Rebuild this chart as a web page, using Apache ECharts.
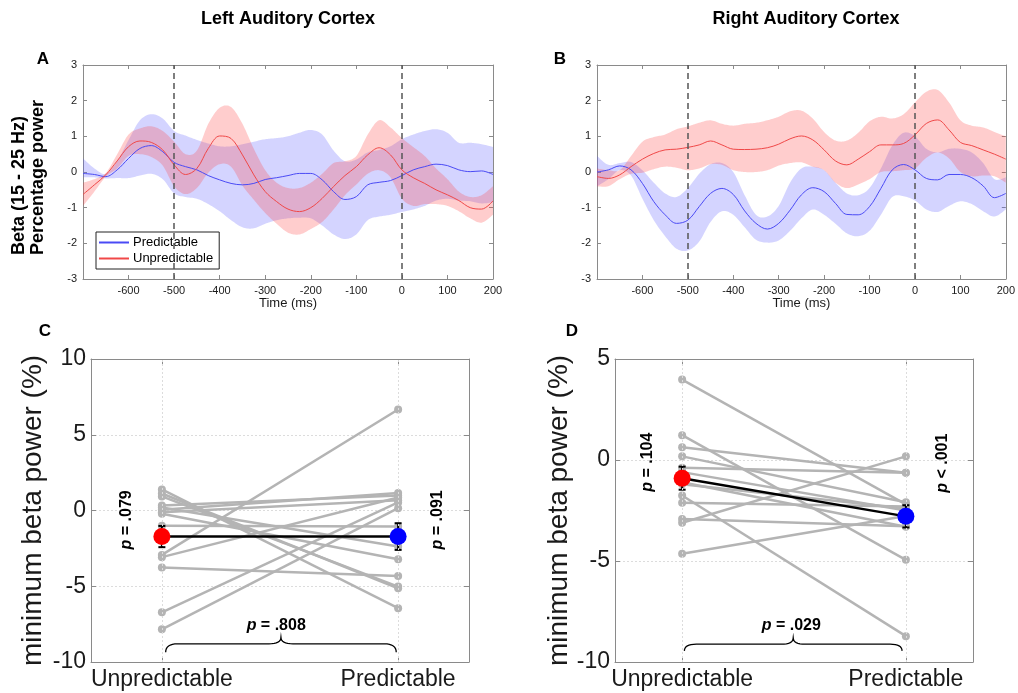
<!DOCTYPE html>
<html>
<head>
<meta charset="utf-8">
<script src="https://cdn.jsdelivr.net/npm/echarts@6/dist/echarts.min.js"></script>
<style>
html,body{margin:0;padding:0;background:#fff}
#chart{width:1018px;height:693px}
</style>
</head>
<body>
<div id="chart"></div>
<script>
// ---- time courses of beta power (percentage change), sampled every 25 ms ----
const timeMs = [-700,-675,-650,-625,-600,-575,-550,-525,-500,-475,-450,-425,-400,-375,-350,-325,-300,-275,-250,-225,-200,-175,-150,-125,-100,-75,-50,-25,0,25,50,75,100,125,150,175,200];

// Left auditory cortex
const leftPredMean  = [-0.04,-0.07,-0.13,0.06,0.38,0.66,0.74,0.57,0.27,0.15,0.06,-0.1,-0.22,-0.32,-0.36,-0.32,-0.21,-0.16,-0.1,-0.04,-0.04,-0.22,-0.55,-0.77,-0.69,-0.36,-0.29,-0.24,-0.1,0.06,0.15,0.22,0.18,0.06,0.01,0.03,-0.07];
const leftPredUpper = [0.38,0.1,-0.05,0.3,0.9,1.45,1.62,1.5,1.15,1.02,0.9,0.8,0.72,0.72,0.78,0.85,0.92,0.95,1.0,1.1,1.18,1.05,0.6,0.3,0.35,0.55,0.62,0.72,0.92,1.05,1.15,1.2,1.1,0.82,0.82,0.78,0.7];
const leftPredLower = [-0.15,-0.15,-0.18,-0.17,-0.17,-0.1,-0.05,-0.2,-0.6,-0.7,-0.75,-0.9,-1.1,-1.35,-1.55,-1.58,-1.45,-1.35,-1.3,-1.28,-1.3,-1.5,-1.75,-1.88,-1.75,-1.35,-1.25,-1.2,-1.12,-1.05,-0.95,-0.8,-0.75,-0.8,-0.82,-0.88,-0.85];
const leftUnpMean   = [-0.63,-0.36,-0.08,0.31,0.71,0.87,0.83,0.62,0.2,-0.07,0.1,0.66,1.01,0.94,0.48,-0.08,-0.55,-0.83,-1.04,-1.11,-1.0,-0.74,-0.41,-0.1,0.15,0.48,0.68,0.48,0.06,-0.16,-0.32,-0.5,-0.64,-0.8,-1.0,-1.04,-0.81];
const leftUnpUpper  = [-0.3,-0.2,-0.03,0.5,1.05,1.22,1.28,1.15,0.85,0.5,0.6,1.35,1.8,1.82,1.35,0.65,0.05,-0.3,-0.45,-0.45,-0.3,-0.05,0.25,0.3,0.45,1.05,1.45,1.25,0.95,0.7,0.45,0.1,-0.2,-0.55,-0.7,-0.65,-0.4];
const leftUnpLower  = [-0.95,-0.55,-0.13,0.1,0.45,0.5,0.42,0.18,-0.4,-0.62,-0.45,-0.02,0.22,0.15,-0.38,-0.78,-1.15,-1.45,-1.7,-1.75,-1.6,-1.4,-1.05,-0.65,-0.35,-0.05,0.05,-0.15,-0.75,-0.95,-0.9,-0.9,-0.95,-1.1,-1.3,-1.42,-1.2];

// Right auditory cortex
const rightPredMean  = [0.0,0.06,0.17,0.06,-0.32,-0.83,-1.2,-1.44,-1.35,-0.97,-0.6,-0.46,-0.63,-1.09,-1.44,-1.6,-1.44,-1.07,-0.64,-0.44,-0.55,-0.88,-1.19,-1.2,-0.97,-0.46,0.06,0.21,0.06,-0.18,-0.22,-0.07,-0.07,-0.16,-0.39,-0.72,-0.6];
const rightPredUpper = [0.45,0.2,0.25,0.28,0.05,-0.3,-0.6,-0.7,-0.45,-0.05,0.22,0.25,0.0,-0.65,-1.2,-1.25,-0.95,-0.3,0.1,0.15,0.05,-0.3,-0.6,-0.65,-0.45,0.1,0.75,1.1,1.0,0.65,0.55,0.65,0.65,0.55,0.25,-0.2,-0.15];
const rightPredLower = [-0.4,-0.2,0.05,-0.1,-0.75,-1.35,-1.8,-2.15,-2.2,-1.95,-1.4,-1.1,-1.2,-1.55,-1.9,-1.98,-1.92,-1.65,-1.3,-1.05,-1.2,-1.45,-1.72,-1.8,-1.65,-1.2,-0.7,-0.68,-0.8,-1.05,-1.12,-0.95,-0.82,-0.9,-1.1,-1.25,-1.05];
const rightUnpMean   = [-0.13,-0.18,-0.08,0.15,0.36,0.52,0.62,0.64,0.69,0.76,0.87,0.76,0.64,0.63,0.64,0.68,0.78,0.93,1.01,0.9,0.62,0.31,0.2,0.36,0.57,0.76,0.76,0.8,1.04,1.36,1.46,1.18,0.83,0.74,0.62,0.5,0.36];
const rightUnpUpper  = [0.1,0.05,0.05,0.45,0.85,0.98,1.05,1.2,1.28,1.38,1.45,1.35,1.3,1.35,1.38,1.45,1.55,1.7,1.72,1.5,1.12,0.88,0.88,1.1,1.42,1.55,1.5,1.62,1.95,2.25,2.3,1.95,1.45,1.3,1.25,1.12,1.0];
const rightUnpLower  = [-0.4,-0.4,-0.2,-0.05,-0.02,0.08,0.15,0.12,0.05,0.1,0.22,0.2,0.05,0.0,0.0,0.05,0.18,0.25,0.27,0.15,0.05,-0.3,-0.45,-0.35,-0.2,0.0,0.02,0.05,0.1,0.4,0.55,0.38,0.0,-0.12,-0.1,-0.12,-0.3];

const eventMarksMs = [-500, 0];

// ---- per-participant minimum beta power (%) ----
const conditionNames = ['Unpredictable', 'Predictable'];
const leftUnpSubj  = [1.39, 1.12, 0.93, 0.33, 0.2, 0.05, -0.11, -0.22, -1.0, -2.93, -3.08, -3.77, -6.72, -7.84];
const leftPredSubj = [-6.45, -5.13, -5.02, 0.99, -2.38, 1.15, 0.68, -3.22, -1.06, 6.67, 0.86, -4.32, 0.53, 0.15];
const leftGroupMean = [-1.72, -1.72];
const leftGroupSem  = [0.7, 0.88];

const rightUnpSubj  = [3.98, 1.23, 0.63, 0.18, -0.38, -0.6, -1.2, -1.76, -2.12, -2.92, -3.11, -4.64, -1.1];
const rightPredSubj = [-2.2, -4.94, -0.63, -2.09, -0.63, -2.5, -2.4, -8.72, -2.3, -3.28, 0.18, -2.77, -3.3];
const rightGroupMean = [-0.9, -2.79];
const rightGroupSem  = [0.57, 0.55];

// p-values printed on the lower panels
const leftPLabels  = { unp: '.079', pred: '.091', diff: '.808', predOp: '=' };
const rightPLabels = { unp: '.104', pred: '.001', diff: '.029', predOp: '<' };

// ---- styling ----
const FONT = 'Arial, "Liberation Sans", Helvetica, sans-serif';
const BLUE_LINE = '#4a4af5';
const RED_LINE = '#f04848';
const BLUE_FILL = 'rgba(90,90,255,0.26)';
const RED_FILL = 'rgba(255,70,70,0.27)';
const BOX = '#8a8a8a';
const TXT = '#1a1a1a';

const chart = echarts.init(document.getElementById('chart'), null, { renderer: 'canvas' });

const zip = (xs, ys) => xs.map((x, i) => [x, ys[i]]);

// Catmull-Rom curve through pixel points, used for the smooth edges of the shaded bands
function smoothPath(pts, steps) {
  const out = [];
  const n = pts.length;
  for (let i = 0; i < n - 1; i++) {
    const p0 = pts[Math.max(i - 1, 0)], p1 = pts[i], p2 = pts[i + 1], p3 = pts[Math.min(i + 2, n - 1)];
    for (let s = 0; s < steps; s++) {
      const t = s / steps, t2 = t * t, t3 = t2 * t;
      const f = k => 0.5 * (2 * p1[k] + (-p0[k] + p2[k]) * t +
        (2 * p0[k] - 5 * p1[k] + 4 * p2[k] - p3[k]) * t2 +
        (-p0[k] + 3 * p1[k] - 3 * p2[k] + p3[k]) * t3);
      out.push([f(0), f(1)]);
    }
  }
  out.push(pts[n - 1]);
  return out;
}

function timeAxes(gi) {
  const common = {
    gridIndex: gi, type: 'value', min: -700, max: 200, interval: 100,
    axisLine: { show: true, onZero: false, lineStyle: { color: BOX, width: 1 } },
    axisTick: { show: true, inside: true, length: 4, lineStyle: { color: BOX } },
    splitLine: { show: false }
  };
  return [
    Object.assign({}, common, {
      position: 'bottom',
      axisLabel: { color: TXT, fontSize: 11, fontFamily: FONT, margin: 6,
        formatter: v => (v === -700 ? '' : String(v)) },
      name: 'Time (ms)', nameLocation: 'middle', nameGap: 16,
      nameTextStyle: { color: TXT, fontSize: 13, fontFamily: FONT }
    }),
    Object.assign({}, common, { position: 'top', axisLabel: { show: false } })
  ];
}
function powerAxes(gi) {
  const common = {
    gridIndex: gi, type: 'value', min: -3, max: 3, interval: 1,
    axisLine: { show: true, onZero: false, lineStyle: { color: BOX, width: 1 } },
    axisTick: { show: true, inside: true, length: 4, lineStyle: { color: BOX } },
    splitLine: { show: false }
  };
  return [
    Object.assign({}, common, {
      position: 'left',
      axisLabel: { color: TXT, fontSize: 11, fontFamily: FONT, margin: 6 }
    }),
    Object.assign({}, common, { position: 'right', axisLabel: { show: false } })
  ];
}
function condAxes(gi) {
  const common = {
    gridIndex: gi, type: 'value', min: 0.7, max: 2.3,
    axisLine: { show: true, onZero: false, lineStyle: { color: BOX, width: 1 } },
    splitLine: { show: false }
  };
  return [
    Object.assign({}, common, {
      position: 'bottom',
      axisTick: { show: true, inside: true, length: 5, customValues: [1, 2], lineStyle: { color: BOX } },
      axisLabel: { show: true, customValues: [1, 2], color: TXT, fontSize: 23, fontFamily: FONT, margin: 6,
        formatter: v => conditionNames[Math.round(v) - 1] }
    }),
    Object.assign({}, common, {
      position: 'top',
      axisTick: { show: true, inside: true, length: 5, customValues: [1, 2], lineStyle: { color: BOX } },
      axisLabel: { show: false }
    })
  ];
}
function betaMinAxes(gi, min, max, gap) {
  const common = {
    gridIndex: gi, type: 'value', min: min, max: max, interval: 5,
    axisLine: { show: true, onZero: false, lineStyle: { color: BOX, width: 1 } },
    axisTick: { show: true, inside: true, length: 5, lineStyle: { color: BOX } }
  };
  return [
    Object.assign({}, common, {
      position: 'left',
      splitLine: { show: true, lineStyle: { color: '#dcdcdc', type: [2, 2], width: 1 } },
      axisLabel: { color: TXT, fontSize: 23, fontFamily: FONT, margin: 5 },
      name: 'minimum beta power (%)', nameLocation: 'middle', nameGap: gap, nameRotate: 90,
      nameTextStyle: { color: TXT, fontSize: 28, fontFamily: FONT }
    }),
    Object.assign({}, common, { position: 'right', splitLine: { show: false }, axisLabel: { show: false } })
  ];
}

// shaded error band: polygon between the upper and lower bound curves
function band(xi, upper, lower, fill) {
  return {
    type: 'custom', xAxisIndex: xi, yAxisIndex: xi, silent: true, z: 2,
    data: [[timeMs[0], lower[0]]],
    renderItem: (params, api) => {
      const up = smoothPath(timeMs.map((t, i) => api.coord([t, upper[i]])), 10);
      const lo = smoothPath(timeMs.map((t, i) => api.coord([t, lower[i]])), 10);
      return { type: 'polygon', shape: { points: up.concat(lo.reverse()) }, style: { fill: fill, stroke: null } };
    }
  };
}
function meanLine(name, xi, vals, color, marks) {
  const s = {
    name: name, type: 'line', xAxisIndex: xi, yAxisIndex: xi, data: zip(timeMs, vals),
    symbol: 'none', smooth: 0.35, z: 3, lineStyle: { color: color, width: 1 }, itemStyle: { color: color }
  };
  if (marks) {
    s.markLine = {
      silent: true, symbol: 'none', label: { show: false },
      lineStyle: { type: [6, 4], color: '#555', width: 1.5 },
      data: eventMarksMs.map(v => ({ xAxis: v }))
    };
  }
  return s;
}

function subjectLines(xi, unp, pred) {
  return unp.map((u, i) => ({
    type: 'line', xAxisIndex: xi, yAxisIndex: xi, silent: true, z: 2,
    data: [[1, u], [2, pred[i]]],
    symbol: 'circle', symbolSize: 8,
    lineStyle: { color: '#b4b4b4', width: 2.5 }, itemStyle: { color: '#b4b4b4' }
  }));
}
function errorBars(xi, means, sems) {
  return {
    type: 'custom', xAxisIndex: xi, yAxisIndex: xi, z: 4, silent: true,
    data: means.map((m, i) => [i + 1, m, sems[i]]),
    renderItem: (params, api) => {
      const x = api.value(0), m = api.value(1), s = api.value(2);
      const top = api.coord([x, m + s]);
      const bot = api.coord([x, m - s]);
      const st = { stroke: '#000', lineWidth: 2 };
      return { type: 'group', children: [
        { type: 'line', shape: { x1: top[0], y1: top[1], x2: bot[0], y2: bot[1] }, style: st },
        { type: 'line', shape: { x1: top[0] - 3.5, y1: top[1], x2: top[0] + 3.5, y2: top[1] }, style: st },
        { type: 'line', shape: { x1: bot[0] - 3.5, y1: bot[1], x2: bot[0] + 3.5, y2: bot[1] }, style: st }
      ] };
    }
  };
}
function groupMean(xi, means) {
  return {
    type: 'line', xAxisIndex: xi, yAxisIndex: xi, z: 5, silent: true,
    data: [
      { value: [1, means[0]], itemStyle: { color: '#ff0000' } },
      { value: [2, means[1]], itemStyle: { color: '#0000ff' } }
    ],
    symbol: 'circle', symbolSize: 17,
    lineStyle: { color: '#000', width: 2.5 },
    markLine: {
      silent: true, symbol: 'none', label: { show: false },
      lineStyle: { color: '#dcdcdc', type: [2, 2], width: 1 },
      data: [{ xAxis: 1 }, { xAxis: 2 }]
    }
  };
}

const xAxes = [].concat(timeAxes(0), timeAxes(1), condAxes(2), condAxes(3));
const yAxes = [].concat(powerAxes(0), powerAxes(1),
  betaMinAxes(2, -10, 10, 44), betaMinAxes(3, -10, 5, 21));

const series = [].concat(
  [band(0, leftPredUpper, leftPredLower, BLUE_FILL),
   band(0, leftUnpUpper, leftUnpLower, RED_FILL),
   meanLine('Predictable', 0, leftPredMean, BLUE_LINE, false),
   meanLine('Unpredictable', 0, leftUnpMean, RED_LINE, true),
   band(2, rightPredUpper, rightPredLower, BLUE_FILL),
   band(2, rightUnpUpper, rightUnpLower, RED_FILL),
   meanLine('Predictable', 2, rightPredMean, BLUE_LINE, false),
   meanLine('Unpredictable', 2, rightUnpMean, RED_LINE, true)],
  subjectLines(4, leftUnpSubj, leftPredSubj),
  [errorBars(4, leftGroupMean, leftGroupSem), groupMean(4, leftGroupMean)],
  subjectLines(6, rightUnpSubj, rightPredSubj),
  [errorBars(6, rightGroupMean, rightGroupSem), groupMean(6, rightGroupMean)]
);

const titleText = (text, x, y, size) => ({
  type: 'text', x: x, y: y, z: 10,
  style: { text: text, fill: '#000', fontSize: size, fontWeight: 'bold', fontFamily: FONT, align: 'center', verticalAlign: 'middle' }
});
// rotated y-axis title lines of the upper-left panel, starting from a common baseline
const sideText = (text, x, y) => ({
  type: 'text', x: x, y: y, rotation: Math.PI / 2, z: 10,
  style: { text: text, fill: '#000', fontSize: 18, fontWeight: 'bold', fontFamily: FONT, align: 'left', verticalAlign: 'middle' }
});

const option = {
  animation: false,
  backgroundColor: '#fff',
  grid: [
    { left: 83, top: 65, width: 410, height: 214 },
    { left: 597, top: 65, width: 410, height: 214 },
    { left: 91, top: 359, width: 378, height: 303 },
    { left: 615, top: 359, width: 358, height: 303 }
  ],
  xAxis: xAxes,
  yAxis: yAxes,
  legend: {
    left: 96, top: 232, orient: 'vertical', itemGap: 3, itemWidth: 30, itemHeight: 2, icon: 'rect',
    padding: [4, 6, 4, 3], backgroundColor: '#fff', borderColor: '#222', borderWidth: 1,
    data: ['Predictable', 'Unpredictable'], selectedMode: false,
    textStyle: { color: '#000', fontSize: 13, fontFamily: FONT, padding: [0, 0, 0, -1] }
  },
  series: series,
  graphic: [
    titleText('Left Auditory Cortex', 288, 19, 18),
    titleText('Right Auditory Cortex', 806, 19, 18),
    titleText('A', 43, 59, 17),
    titleText('B', 560, 59, 17),
    titleText('C', 45, 331, 17),
    titleText('D', 572, 331, 17),
    sideText('Beta (15 - 25 Hz)', 19, 255),
    sideText('Percentage power', 38, 255)
  ]
};
chart.setOption(option);

// p-value annotations and braces placed in data coordinates of the lower panels
function pText(gridIndex, x, y, value, op, rotated) {
  const p = chart.convertToPixel({ gridIndex: gridIndex }, [x, y]);
  return {
    type: 'text', x: p[0], y: p[1], rotation: rotated ? Math.PI / 2 : 0, z: 10,
    style: {
      text: '{i|p} ' + op + ' ' + value,
      fontSize: 16, fontWeight: 'bold', fontFamily: FONT, fill: '#000',
      align: 'center', verticalAlign: 'middle',
      rich: { i: { fontStyle: 'italic', fontWeight: 'bold', fontSize: 16, fontFamily: FONT } }
    }
  };
}
function quad(a, c, b, n) {
  const pts = [];
  for (let i = 1; i <= n; i++) {
    const t = i / n, u = 1 - t;
    pts.push([u * u * a[0] + 2 * u * t * c[0] + t * t * b[0], u * u * a[1] + 2 * u * t * c[1] + t * t * b[1]]);
  }
  return pts;
}
function brace(gridIndex, x0, x1, yTip, yMid, yEnd) {
  const a = chart.convertToPixel({ gridIndex: gridIndex }, [x0, yEnd]);
  const b = chart.convertToPixel({ gridIndex: gridIndex }, [x1, yEnd]);
  const xm = (a[0] + b[0]) / 2;
  const ym = chart.convertToPixel({ gridIndex: gridIndex }, [x0, yMid])[1];
  const yt = chart.convertToPixel({ gridIndex: gridIndex }, [x0, yTip])[1];
  const r = 12;
  let pts = [a];
  pts = pts.concat(quad(a, [a[0], ym], [a[0] + r, ym], 8));
  pts.push([xm - r, ym]);
  pts = pts.concat(quad([xm - r, ym], [xm, ym], [xm, yt], 8));
  pts = pts.concat(quad([xm, yt], [xm, ym], [xm + r, ym], 8));
  pts.push([b[0] - r, ym]);
  pts = pts.concat(quad([b[0] - r, ym], [b[0], ym], b, 8));
  return { type: 'polyline', z: 10, shape: { points: pts }, style: { stroke: '#000', lineWidth: 1.3, fill: null } };
}

chart.setOption({
  graphic: option.graphic.concat([
    pText(2, 0.851, -0.62, leftPLabels.unp, '=', true),
    pText(2, 2.165, -0.62, leftPLabels.pred, leftPLabels.predOp, true),
    pText(2, 1.484, -7.57, leftPLabels.diff, '=', false),
    brace(2, 1.016, 1.992, -8.36, -8.8, -9.36),
    pText(3, 0.845, -0.11, rightPLabels.unp, '=', true),
    pText(3, 2.162, -0.16, rightPLabels.pred, rightPLabels.predOp, true),
    pText(3, 1.488, -8.18, rightPLabels.diff, '=', false),
    brace(3, 1.01, 1.983, -8.8, -9.12, -9.45)
  ])
});
</script>
</body>
</html>
